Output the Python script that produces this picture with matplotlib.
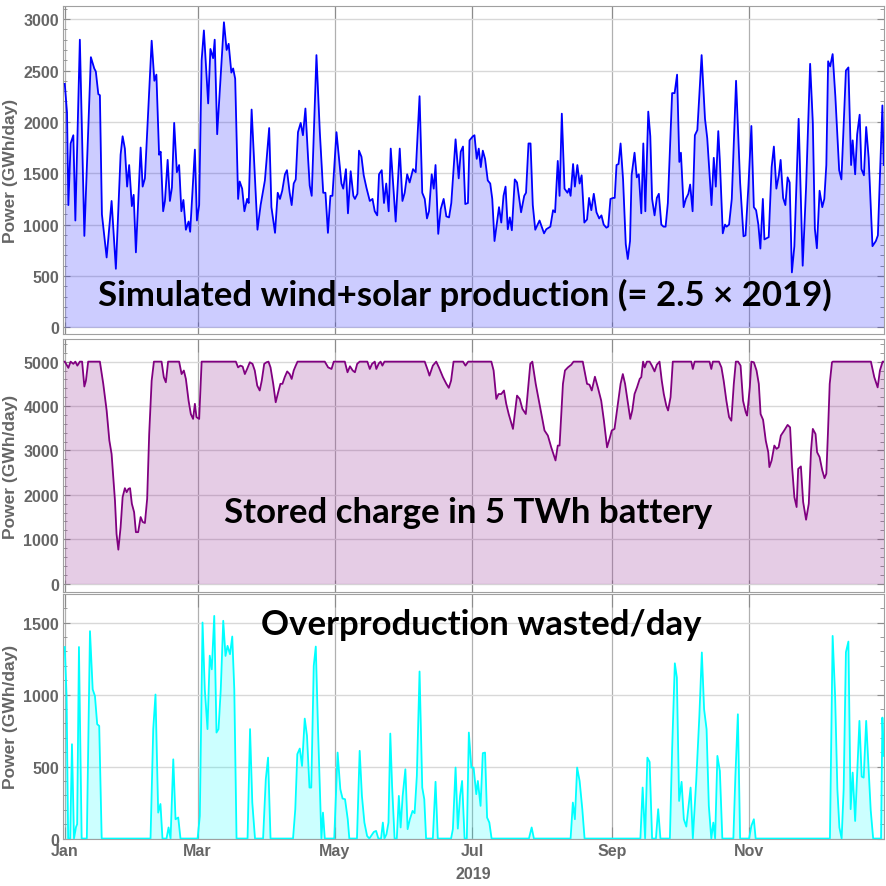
import matplotlib
matplotlib.use("Agg")
import matplotlib.pyplot as plt
from matplotlib.ticker import MultipleLocator

# day of year (0 = 1 Jan 2019) and value
prod_day = [0, 1, 1.6, 2.6, 3.8, 4.7, 6.7, 8.7, 10.9, 11.6, 13.1, 13.8, 14.9, 15.6, 16.5, 18.6,
            20.8, 22.7, 24.8, 25.7, 26.7, 27.7, 28.6, 29.8, 30.6, 31.6, 33.7, 34.6, 35.6, 38.6,
            39.8, 40.7, 41.9, 42.6, 43.7, 44.5, 45.7, 46.7, 47.6, 48.6, 49.8, 50.8, 51.8, 52.7,
            53.8, 55, 55.7, 57.8, 58.7, 59.7, 60.8, 61.8, 63.7, 64.7, 65.9, 66.6, 67.7, 70.7,
            71.9, 72.8, 74, 74.8, 75.7, 77, 77.7, 78.8, 79.8, 81, 81.7, 83, 85.6, 87, 88.9, 90.8,
            91.8, 93.4, 94.6, 95.6, 96.6, 97.8, 98.7, 99.9, 100.8, 101.7, 102.6, 103.6, 104.8,
            105.8, 106.9, 108.1, 108.8, 109.7, 111.8, 113.3, 114.8, 115.8, 116.9, 118, 118.9,
            120.7, 122.9, 123.7, 124.9, 125.8, 127, 128.2, 128.9, 130, 130.7, 131.8, 132.8, 134,
            135.5, 136.7, 137.7, 138.8, 139.6, 140.8, 141.8, 142.8, 143.9, 144.8, 147, 148.8, 150,
            151, 152.1, 153.2, 154.7, 155.9, 157.6, 158.8, 159.9, 160.9, 161.8, 163, 163.9, 164.7,
            165.9, 167, 168.3, 169.5, 170.7, 171.7, 173.6, 175, 175.9, 176.9, 177.9, 179.1, 179.8,
            181.3, 182, 183, 183.9, 184.8, 185.7, 186.7, 187.9, 189, 189.9, 190.9, 191.8, 192.9,
            193.9, 194.9, 195.8, 196.8, 197.7, 198.6, 199.9, 200.9, 202.7, 204.1, 204.9, 206,
            206.9, 207.9, 209, 210.9, 212.9, 213.9, 215.7, 216.9, 217.8, 219, 219.8, 220.8, 222,
            223.3, 224, 224.7, 225.8, 226.6, 227.7, 228.7, 229.6, 230.8, 232, 232.9, 233.9, 235,
            236.2, 237.4, 238.4, 239.4, 240.6, 241.4, 242.4, 243.6, 244.3, 245.1, 246, 246.9, 248,
            249.2, 250.1, 251.1, 251.8, 253.1, 254.1, 255, 256.1, 257, 257.9, 259.2, 260.1, 260.9,
            262, 263, 263.9, 265, 266, 266.9, 267.9, 269.8, 270.9, 272, 273, 273.7, 274.9, 275.9,
            277, 277.8, 278.9, 279.9, 281, 282.9, 284.4, 285.4, 287.3, 288.3, 289.2, 290.3, 291,
            292.3, 293.3, 294, 295.1, 296.3, 298.2, 300, 301.5, 302.4, 303.7, 305, 306.1, 307.1,
            308.1, 309, 310.1, 310.8, 312.7, 314, 315, 316.1, 317.2, 318, 319.1, 320.1, 321.1, 322,
            323, 324.1, 326, 327.8, 329.3, 331.1, 332.3, 333.2, 334.1, 335.3, 336.5, 337.4, 338.3,
            339.1, 340, 341.1, 342.3, 344, 345, 347, 348.1, 349.3, 350, 351.1, 352, 353.1, 353.9,
            355, 356, 357.1, 358.8, 360.3, 361.2, 363.2, 363.8]
prod = [2370, 2090, 1190, 1790, 1870, 1040, 2800, 890, 2220, 2630, 2520, 2490, 2270, 2260, 1100, 680,
        1230, 570, 1680, 1860, 1740, 1370, 1580, 1180, 1290, 730, 1750, 1370, 1450, 2790,
        2400, 2460, 1680, 1710, 1130, 1230, 1630, 1230, 1360, 1990, 1510, 1580, 1130, 1240,
        950, 1030, 930, 1730, 1040, 1190, 2600, 2890, 2180, 2710, 2620, 2800, 1880, 2970,
        2700, 2760, 2480, 2520, 2420, 1250, 1420, 1350, 1130, 1250, 1210, 2120, 950, 1190, 1430, 1940,
        1170, 920, 1310, 1250, 1330, 1490, 1530, 1310, 1190, 1400, 1440, 1900, 1990,
        1870, 2130, 1640, 1380, 1280, 2650, 1900, 1310, 1310, 920, 1280, 1280,
        1900, 1400, 1350, 1540, 1110, 1520, 1280, 1250, 1300, 1720, 1660, 1480, 1360,
        1230, 1250, 1130, 1090, 1490, 1530, 1210, 1400, 1130, 1740, 1030, 1740, 1230,
        1310, 1490, 1410, 1540, 1510, 2250, 1310, 1250, 1060, 1130, 1490, 1350, 1580,
        910, 1150, 1250, 1080, 1070, 1210, 1830, 1450, 1710, 1760, 1200, 1210, 1820,
        1860, 1870, 1640, 1740, 1560, 1720, 1640, 1430, 1400, 1250, 840, 990, 1170,
        1020, 1280, 1370, 955, 1070, 945, 1440, 1410, 1120, 1280, 1310, 1790,
        1790, 1190, 950, 1040, 915, 955, 980, 1140, 1120, 1620, 1280, 2080, 1350,
        1310, 1350, 1280, 1590, 1370, 1580, 1400, 1480, 1020, 1050, 1260, 1140, 1300,
        1120, 1060, 1090, 1000, 970, 980, 1250, 1260, 1260, 1580, 1590, 1790, 1440,
        810, 665, 840, 1480, 1700, 1460, 1490, 1110, 1790, 1130, 2100, 1860, 1250,
        1090, 1260, 1300, 1000, 980, 980, 1210, 2280, 2280, 2460, 1610, 1700, 1170, 1250,
        1300, 1390, 1130, 1870, 1920, 2650, 2030, 1840, 1190, 1650, 1370, 1910, 1620,
        915, 1000, 980, 1000, 1250, 2400, 1410, 886, 895, 1380, 1960, 1170, 1140,
        1000, 767, 1250, 856, 878, 1560, 1760, 1350, 1480, 1630, 1260, 1190, 1460, 1410,
        535, 790, 2030, 600, 1360, 2565, 1990, 960, 770, 1330, 1170, 1250, 1580,
        2590, 2540, 2660, 2250, 1530, 1440, 2500, 2530, 1580, 1820, 1490, 1880, 2070, 1540,
        1480, 1950, 1650, 790, 840, 895, 2160, 1580]

batt_day = [0, 1.6, 2.6, 3.8, 4.7, 5.6, 6.7, 7.7, 8.7, 9.4, 10.4, 15.6, 17.1, 18.6, 19.8, 20.8,
            22.3, 23, 23.8, 24.8, 25.7, 26.7, 27.5, 28.3, 29, 29.8, 30.8, 31.6, 32.6, 33.7, 34.6,
            35.6, 36.6, 37.5, 38.6, 39.6, 43, 44, 44.9, 45.9, 50.8, 51.9, 52.9, 53.8, 55, 56, 57,
            57.8, 58.5, 59.7, 60.8, 76, 77, 78, 79, 80, 81, 82.2, 83.4, 84.4, 85.5, 86.6, 87.5,
            88.6, 89.6, 90.5, 91.4, 92.6, 93.7, 94.8, 95.8, 96.7, 97.7, 98.8, 99.9, 100.8, 101.7,
            102.6, 103.4, 115.5, 117, 118.5, 119.5, 124.4, 125.6, 126.7, 127.9, 128.9, 129.9, 131,
            134.4, 135.5, 136.5, 137.7, 138.4, 139.5, 140.3, 141.1, 142, 159.9, 161.3, 162, 163.5,
            165, 166.2, 168, 169.5, 170.6, 171.6, 172.7, 176.9, 178, 179.2, 189.5, 190.5, 191.7,
            192.7, 193.9, 195.1, 196.1, 197.2, 199.1, 200.9, 202.1, 203.3, 204.8, 205.8, 206.8,
            207.7, 209.2, 210.6, 211.7, 213.1, 214.6, 216.1, 218, 219, 219.8, 221.3, 222.2, 223.5,
            225, 226, 230.1, 231.3, 232, 233.1, 234.1, 235.5, 236.8, 238.3, 239.5, 240.9, 242, 243,
            244.2, 245.7, 246.9, 247.9, 248.9, 250.1, 251.2, 252.1, 253.1, 254.2, 255.4, 256.1,
            256.9, 257.6, 258.6, 259.8, 260.8, 262, 263, 264.2, 265.2, 266.1, 267.2, 268, 269.1,
            270.1, 278.3, 279, 279.8, 286.4, 287.2, 287.9, 290.6, 291.7, 292.7, 293.9, 295.1,
            296.1, 297.2, 298.1, 299.1, 300.2, 301.3, 302.5, 303.1, 304.3, 305, 306.1, 307.3,
            308.3, 309.1, 310.2, 311.4, 312.5, 313, 314, 315.2, 316.2, 317.1, 318.1, 319.6, 321.1,
            322.2, 323.1, 324.1, 325.1, 325.8, 327, 328, 329.3, 330.5, 331.5, 332.3, 333.5, 334.2,
            335.3, 336.5, 337.5, 338.3, 339, 339.8, 340.8, 341.2, 358.1, 359.6, 361.1, 362.1,
            363.3, 364]
batt = [5000, 4860, 5000, 4950, 5000, 4910, 5000, 5000, 4440, 4570, 5000, 5000, 4500, 3900, 3225, 2920,
        1870, 1120, 765, 1270, 1950, 2150, 2060, 2135, 2150, 1800, 1610, 1160, 1160, 1500, 1390,
        1365, 1910, 3370, 4570, 5000, 5000, 4650, 4535, 5000, 5000, 4720, 4800, 4610, 4120, 3820, 3710,
        4050, 3750, 3710, 5000, 5000, 4870, 4910, 4890, 4720, 4835, 4985, 4950, 4800, 4460, 4350, 4570,
        4950, 4985, 5000, 4870, 4500, 4085, 4310, 4500, 4500, 4650, 4780, 4720, 4610, 4800,
        4910, 5000, 5000, 4870, 4835, 5000, 5000, 4760, 4895, 4800, 4760, 4950, 5000,
        5000, 4835, 4950, 5000, 4835, 4960, 5000, 4910, 5000, 5000, 4800, 4685, 4910,
        5000, 4870, 4650, 4500, 4410, 4570, 5000, 5000, 4910, 5000, 5000, 4800, 4160,
        4270, 4270, 4350, 4050, 3820, 3485, 4235, 4160, 3935, 3820, 4385, 4950,
        5000, 4500, 4120, 3820, 3450, 3335, 3070, 2775, 3110, 3110, 4500, 4800, 4870,
        4930, 5000, 5000, 4685, 4500, 4480, 4350, 4660, 4420, 4120, 3670, 3070, 3260, 3450,
        3485, 4050, 4500, 4720, 4500, 4085, 3710, 3900, 4270, 4420, 4610, 4650,
        5000, 4870, 5000, 5000, 4910, 4780, 4930, 5000, 4570, 4270, 4010, 3900, 4200,
        5000, 5000, 4835, 5000, 5000, 4835, 5000, 5000, 4870, 4570, 4120, 3750,
        3670, 4500, 5000, 5000, 4910, 4120, 3860, 3785, 4420, 5000, 4985, 4800,
        4500, 3820, 3690, 3220, 2960, 2625, 2775, 3110, 3035, 3070, 3335, 3450, 3575,
        3520, 2625, 1950, 1725, 2585, 2640, 1840, 1440, 1800, 3000, 3485, 3370, 2960,
        2850, 2550, 2375, 2475, 3370, 4500, 4985, 5000, 5000, 4650, 4420, 4800,
        5000, 5000]

waste_day = [0, 0.8, 1.5, 2.4, 3.2, 4.1, 5, 5.5, 6.3, 7.5, 9.8, 11.2, 12.4, 13.4, 14.4, 15.3, 16.4,
             38.1, 39.3, 40.3, 41.5, 42.5, 43.4, 45.2, 46.1, 47, 48.2, 49.2, 50.4, 51.4, 59, 60,
             61.2, 62.2, 63.4, 64.4, 65.3, 66.4, 67.4, 68.3, 69.3, 70.4, 71.4, 72.3, 73.4, 74.4,
             75.3, 76.3, 81.2, 82.3, 83.3, 84.5, 88.1, 89.3, 90.3, 91.4, 101.4, 102.4, 103.3,
             104.4, 105.4, 106.6, 107.6, 108.7, 109.5, 110.6, 111.5, 112.5, 114, 114.7, 115.5,
             119.7, 121.2, 122.4, 123.4, 124.5, 125.7, 126.4, 129.8, 131, 132, 133.1, 134.3,
             135.3, 137.3, 138.3, 139.3, 140.5, 141.3, 142, 142.9, 143.8, 144.6, 145.4, 146.5,
             147.5, 148.4, 149.2, 150.1, 151.3, 152.3, 153.3, 154.5, 155.4, 156.4, 157.6, 158.8,
             159.7, 160.5, 163.5, 164.7, 165.7, 171.6, 172.4, 173.6, 174.6, 175.6, 176.5, 177.6,
             178.6, 179.5, 180.6, 181.6, 182.8, 183.5, 184.7, 185.7, 186.7, 187.6, 188.6, 189.6,
             206.2, 207.4, 208.4, 224.7, 225.7, 226.6, 227.6, 228.7, 229.9, 230.9, 255.7, 256.7,
             257.8, 258.8, 259.8, 260.9, 262.6, 263.6, 264.6, 268.8, 269.8, 271, 271.9, 272.9,
             274, 275, 276.1, 277.1, 278, 279, 280.5, 281.9, 283, 284, 285.1, 286.1, 287.2, 288.1,
             288.9, 289.9, 291, 292.1, 297, 297.9, 299, 300, 304, 305, 306.1, 306.9, 339.9, 341.1,
             342.2, 343.2, 344.1, 345.1, 346, 347, 348.1, 349.1, 350, 351.1, 351.9, 353, 354,
             354.9, 356, 357, 358, 359.1, 362.6, 363.2, 363.8]
waste = [1330, 990, 0, 0, 655, 0, 80, 100, 1330, 0, 0, 1440, 1036, 990, 794, 782, 0,
         0, 760, 1000, 180, 240, 0, 0, 77, 0, 550, 134, 146, 0, 0, 157,
         1500, 1036, 760, 1270, 1175, 1546, 736, 760, 1036, 1512, 1268, 1338, 1280, 1403,
         1036, 0, 0, 760, 250, 0, 0, 412, 562, 0, 0, 204, 586,
         625, 504, 833, 713, 354, 354, 1199, 1333, 759, 0, 180, 0,
         0, 597, 343, 278, 273, 134, 0, 0, 609, 296, 111, 18,
         0, 46, 53, 0, 0, 111, 0, 30, 111, 729, 366, 0,
         0, 296, 77, 296, 481, 65, 134, 192, 176, 435, 1160, 354,
         273, 0, 0, 394, 0, 0, 65, 493, 69, 296, 400, 0,
         0, 736, 493, 493, 308, 400, 227, 593, 597, 146, 111, 0,
         0, 77, 0, 0, 250, 134, 493, 400, 204, 0, 0, 354,
         0, 562, 532, 0, 0, 204, 0, 0, 620, 1217, 1118, 261,
         394, 134, 83, 227, 354, 0, 400, 852, 1292, 898, 759, 227, 0, 111,
         0, 574, 470, 0, 0, 435, 863, 0, 0, 88, 134, 0, 0, 1407,
         990, 343, 77, 0, 343, 1294, 1368, 204, 458, 122, 412, 817, 430,
         423, 817, 504, 199, 0, 0, 840, 574]

month_days = [0, 59, 120, 181, 243, 304]
month_names = ["Jan", "Mar", "May", "Jul", "Sep", "Nov"]

GRAY = "#666666"
plt.rcParams["font.family"] = "Liberation Sans"
plt.rcParams["font.weight"] = "bold"
TXT = dict(family="Lato", weight="bold", color="black", fontsize=25)

fig = plt.figure(figsize=(8.86, 8.87), dpi=100)
axes = [fig.add_axes([0.0714, 0.6223, 0.9263, 0.3698]),
        fig.add_axes([0.0714, 0.3315, 0.9263, 0.2852]),
        fig.add_axes([0.0714, 0.0535, 0.9263, 0.2760])]

panels = [(prod_day, prod, "#0000ff", (-65, 3128), 500, 100),
          (batt_day, batt, "#800080", (-187, 5510), 1000, 200),
          (waste_day, waste, "#00ffff", (0, 1700), 500, 100)]

for ax, (d, v, col, ylim, major, minor) in zip(axes, panels):
    ax.fill_between(d, v, 0, color=col, alpha=0.2, lw=0, zorder=2)
    ax.plot(d, v, color=col, lw=1.3, zorder=3)
    ax.set_xlim(-0.67, 363.9)
    ax.set_ylim(*ylim)
    ax.yaxis.set_major_locator(MultipleLocator(major))
    ax.yaxis.set_minor_locator(MultipleLocator(minor))
    ax.set_xticks(month_days)
    ax.set_xticklabels(month_names)
    ax.grid(axis="y", which="major", color="#d8d8d8", lw=1, zorder=0)
    ax.grid(axis="x", which="major", color="#b0b0b0", lw=0.9, zorder=0)
    ax.tick_params(which="both", direction="in", color="#8c8c8c", top=True, right=True,
                   labelcolor=GRAY, labelsize=11.5, pad=3)
    ax.tick_params(axis="y", which="major", length=5)
    ax.tick_params(axis="y", which="minor", length=3)
    ax.tick_params(axis="x", which="major", length=9)
    for s in ax.spines.values():
        s.set_color("#a0a0a0")
    ax.set_ylabel("Power (GWh/day)", color=GRAY, fontsize=12.5, fontweight="bold")
    ax.yaxis.set_label_coords(-0.055, 0.5)

axes[0].tick_params(labelbottom=False)
axes[1].tick_params(labelbottom=False)
axes[2].set_xlabel("2019", color=GRAY, fontsize=11.5, fontweight="bold", labelpad=6)

axes[0].text(0.489, 0.122, "Simulated wind+solar production (= 2.5 \u00d7 2019)",
             transform=axes[0].transAxes, ha="center", va="center", **TXT)
axes[1].text(0.493, 0.316, "Stored charge in 5 TWh battery",
             transform=axes[1].transAxes, ha="center", va="center", **TXT)
axes[2].text(0.509, 0.876, "Overproduction wasted/day",
             transform=axes[2].transAxes, ha="center", va="center", **TXT)

fig.savefig("out.png", dpi=100)
